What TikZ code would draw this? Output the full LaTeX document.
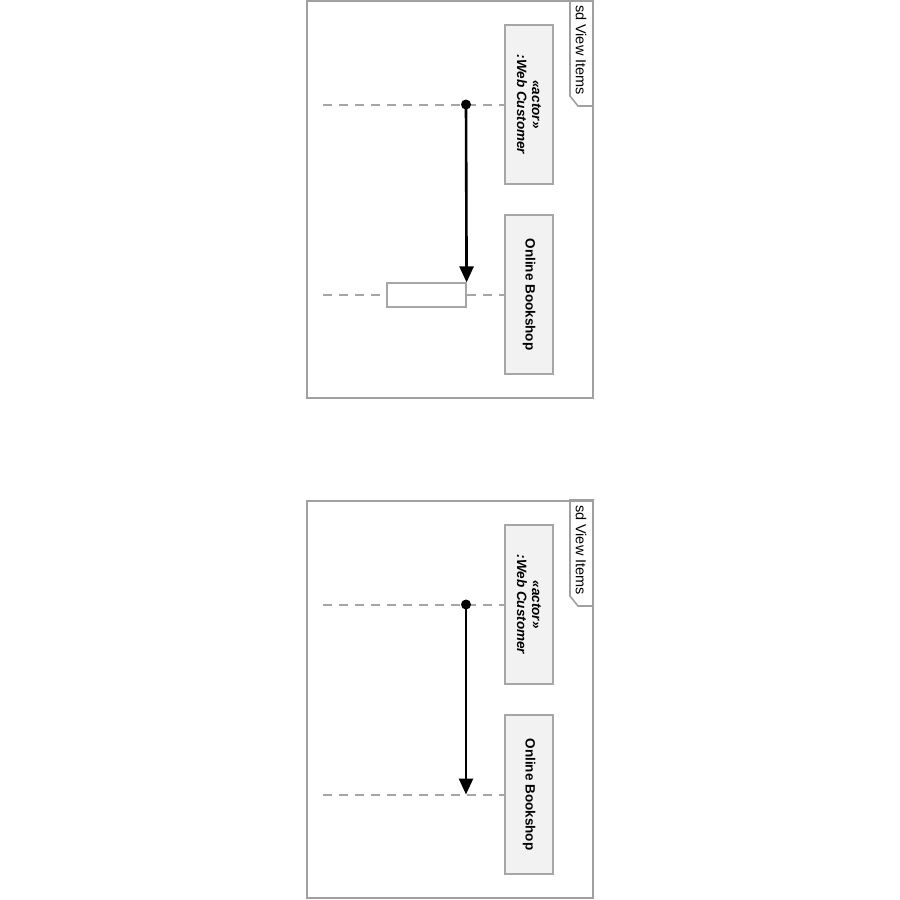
\documentclass[tikz,border=0pt]{standalone}
\usepackage{fontspec}
\setmainfont{Liberation Sans}
\usetikzlibrary{arrows.meta,positioning}
\definecolor{framegray}{HTML}{A0A0A0}
\definecolor{boxgray}{HTML}{A6A6A6}
\definecolor{boxfill}{HTML}{F2F2F2}
\tikzset{
  sdframe/.style={draw=framegray, line width=2pt, minimum width=286pt, minimum height=397pt, inner sep=0pt},
  sdtab/.style={draw=framegray, line width=1.6pt},
  sdlabel/.style={rotate=-90, inner sep=0pt, font=\fontsize{14.5}{16}\selectfont},
  lifebox/.style={draw=boxgray, fill=boxfill, line width=1.2pt, rotate=-90, minimum width=159pt, minimum height=48pt, inner sep=0pt, align=center, font=\fontsize{13.5}{15}\selectfont\bfseries},
  lifeline/.style={draw=boxgray, line width=2pt, dash pattern=on 9pt off 7pt},
  actbox/.style={draw=boxgray, fill=white, line width=1.2pt, minimum width=79pt, minimum height=24pt, inner sep=0pt},
  msg/.style={-{Triangle[length=16pt,width=14pt]}, line width=2.6pt},
  msgdot/.style={circle, fill=black, inner sep=0pt, minimum size=10pt}
}
\begin{document}
\begin{tikzpicture}[x=1pt, y=-1pt]
\useasboundingbox (0,0) rectangle (900,900);
% upper diagram
\node[sdframe] (frame1) at (450,199.5) {};
\draw[sdtab] (frame1.north east) -- ++(-24,0) -- ++(0,96) -- ++(8,10) -- ++(16,0);
\node[sdlabel] (tab1) at (581,50) {sd View Items};
\node[lifebox] (actor1) at (529,104.5) {\itshape «actor»\\\itshape :Web Customer};
\node[lifebox] (shop1) at (529,294.5) {Online Bookshop};
\coordinate (ll1a) at (323,104.5);
\coordinate (ll1b) at (323,294.5);
\draw[lifeline] (ll1a) -- (actor1.south);
\draw[lifeline] (ll1b) -- (shop1.south);
\node[actbox] (act1) at (426.5,295) {};
\node[msgdot] (src1) at (466,104.5) {};
\draw[msg] (src1.center) -- (act1.north east);
% lower diagram
\node[sdframe] (frame2) at (450,699.5) {};
\draw[sdtab] (frame2.north east) -- ++(-24,0) -- ++(0,96) -- ++(8,10) -- ++(16,0);
\node[sdlabel] (tab2) at (581,550) {sd View Items};
\node[lifebox] (actor2) at (529,604.5) {\itshape «actor»\\\itshape :Web Customer};
\node[lifebox] (shop2) at (529,794.5) {Online Bookshop};
\coordinate (ll2a) at (323,604.5);
\coordinate (ll2b) at (323,794.5);
\draw[lifeline] (ll2a) -- (actor2.south);
\draw[lifeline] (ll2b) -- (shop2.south);
\node[msgdot] (src2) at (466,604.5) {};
\coordinate (tgt2) at (466,794.5);
\draw[msg] (src2.center) -- (tgt2);
\end{tikzpicture}
\end{document}
